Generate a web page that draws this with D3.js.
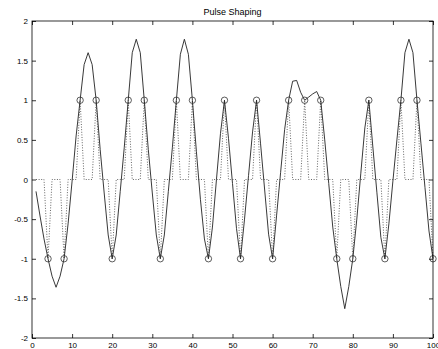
<!DOCTYPE html>
<html>
<head>
<meta charset="utf-8">
<script src="https://cdn.jsdelivr.net/npm/d3@7"></script>
<style>
  body { margin: 0; background: #fff; }
  svg { display: block; font-family: "Liberation Sans", Arial, sans-serif; }
</style>
</head>
<body>
<div id="graph"></div>
<script>
// Symbols (one every 4 samples, at x = 4, 8, ..., 100)
const symbolX = [4, 8, 12, 16, 20, 24, 28, 32, 36, 40, 44, 48, 52, 56, 60, 64, 68, 72, 76, 80, 84, 88, 92, 96, 100];
const symbols = [-1, -1, 1, 1, -1, 1, 1, -1, 1, 1, -1, 1, -1, 1, -1, 1, 1, 1, -1, -1, 1, -1, 1, 1, -1];

// Shaped signal at x = 1..100
const shaped = [
  -0.15, -0.46, -0.75, -1.00, -1.22, -1.36, -1.22, -1.00, -0.56, -0.02,
   0.55,  1.00,  1.45,  1.60,  1.45,  1.00,  0.38, -0.17, -0.70, -1.00,
  -0.70, -0.15,  0.40,  1.00,  1.60,  1.77,  1.60,  1.00,  0.38, -0.17,
  -0.70, -1.00, -0.70, -0.15,  0.40,  1.00,  1.58,  1.77,  1.58,  1.00,
   0.35, -0.25, -0.75, -1.00, -0.60,  0.00,  0.58,  1.00,  0.52, -0.05,
  -0.62, -1.00, -0.50,  0.05,  0.60,  1.00,  0.45, -0.12, -0.69, -1.00,
  -0.45,  0.09,  0.63,  1.00,  1.24,  1.25,  1.10,  1.00,  1.04,  1.08,
   1.11,  1.00,  0.50, -0.05, -0.60, -1.00, -1.35, -1.63, -1.35, -1.00,
  -0.50,  0.08,  0.65,  1.00,  0.41, -0.16, -0.73, -1.00, -0.56, -0.02,
   0.50,  1.00,  1.60,  1.77,  1.60,  1.00,  0.45, -0.10, -0.65, -1.00
];

const xTicks = [0, 10, 20, 30, 40, 50, 60, 70, 80, 90, 100];
const yTicks = [-2, -1.5, -1, -0.5, 0, 0.5, 1, 1.5, 2];
const yTickLabels = ["-2", "-1.5", "-1", "-0.5", "0", "0.5", "1", "1.5", "2"];
const title = "Pulse Shaping";

const width = 438;
const height = 349;
const margin = { top: 21, right: 5, bottom: 11, left: 32 };

const svg = d3.select("#graph").append("svg")
  .attr("width", width)
  .attr("height", height);

const x = d3.scaleLinear()
  .domain([0, 100])
  .range([margin.left, width - margin.right]);

const y = d3.scaleLinear()
  .domain([-2, 2])
  .range([height - margin.bottom, margin.top]);

// upsampled symbol train: symbol at its sample, zero elsewhere
const shapedPts = shaped.map((v, i) => [i + 1, v]);
const trainPts = shaped.map((v, i) => {
  const j = symbolX.indexOf(i + 1);
  return [i + 1, j >= 0 ? symbols[j] : 0];
});

const line = d3.line()
  .x(d => x(d[0]))
  .y(d => y(d[1]));

// Dotted symbol train
svg.append("path")
  .datum(trainPts)
  .attr("fill", "none")
  .attr("stroke", "#555")
  .attr("stroke-width", 0.9)
  .attr("stroke-dasharray", "1,1.6")
  .attr("d", line);

// Shaped signal
svg.append("path")
  .datum(shapedPts)
  .attr("fill", "none")
  .attr("stroke", "#222")
  .attr("stroke-width", 0.9)
  .attr("stroke-linejoin", "round")
  .attr("d", line);

// Sample markers
svg.append("g")
  .selectAll("circle")
  .data(symbols)
  .join("circle")
  .attr("cx", (d, i) => x(symbolX[i]))
  .attr("cy", d => y(d))
  .attr("r", 3.2)
  .attr("fill", "none")
  .attr("stroke", "#333")
  .attr("stroke-width", 0.8);

// Axes (ticks point inward, MATLAB style)
const axisStyle = g => {
  g.select(".domain").remove();
  g.selectAll(".tick line").attr("stroke", "#000").attr("stroke-width", 0.8);
  g.selectAll(".tick text").attr("fill", "#000").style("font-size", "8px");
};

svg.append("g")
  .attr("transform", `translate(0,${y(-2)})`)
  .call(d3.axisBottom(x).tickValues(xTicks).tickSizeInner(-4).tickSizeOuter(0).tickPadding(4))
  .call(axisStyle);

svg.append("g")
  .attr("transform", `translate(0,${y(2)})`)
  .call(d3.axisTop(x).tickValues(xTicks).tickSizeInner(-4).tickSizeOuter(0).tickFormat(""))
  .call(axisStyle);

svg.append("g")
  .attr("transform", `translate(${x(0)},0)`)
  .call(d3.axisLeft(y).tickValues(yTicks).tickSizeInner(-4).tickSizeOuter(0).tickPadding(4)
    .tickFormat((d, i) => yTickLabels[i]))
  .call(axisStyle);

svg.append("g")
  .attr("transform", `translate(${x(100)},0)`)
  .call(d3.axisRight(y).tickValues(yTicks).tickSizeInner(-4).tickSizeOuter(0).tickFormat(""))
  .call(axisStyle);

// Box
svg.append("rect")
  .attr("x", x(0))
  .attr("y", y(2))
  .attr("width", x(100) - x(0))
  .attr("height", y(-2) - y(2))
  .attr("fill", "none")
  .attr("stroke", "#000")
  .attr("stroke-width", 0.8);

// Title
svg.append("text")
  .attr("x", (x(0) + x(100)) / 2)
  .attr("y", 15)
  .attr("text-anchor", "middle")
  .style("font-size", "9px")
  .text(title);
</script>
</body>
</html>
